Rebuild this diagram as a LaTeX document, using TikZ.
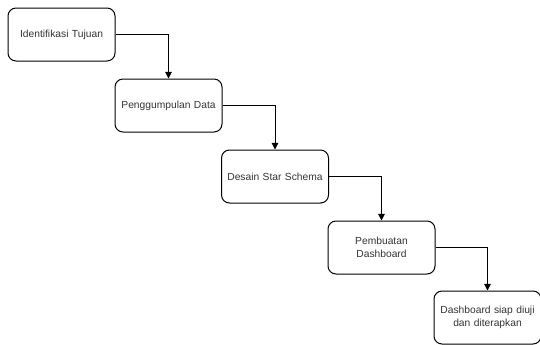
\documentclass[tikz,border=0pt]{standalone}
\usepackage{fontspec}
\setmainfont{Liberation Sans}
\usetikzlibrary{arrows.meta}
\definecolor{txtgray}{rgb}{0.200000,0.200000,0.200000}
\tikzset{
  stepnode/.style={draw=black, line width=0.75pt, rounded corners=6pt,
    minimum width=80.25pt, minimum height=39.75pt, inner sep=1pt,
    text width=76pt, align=center, text=txtgray,
    font=\fontsize{7.7}{9.5}\selectfont},
  flowline/.style={line width=0.75pt, -{Triangle[length=5pt,width=5pt]}}
}
\begin{document}
\begin{tikzpicture}[x=0.75pt,y=-0.75pt]
    \useasboundingbox (0,0) rectangle (540,344);
    
    % Marking step Identifikasi Tujuan
    \node [stepnode] (tujuan) at (61.5,34.5) {Identifikasi Tujuan};%
    
    % Marking step Penggumpulan Data
    \node [stepnode] (data) at (168.5,105.5) {Penggumpulan Data};%
    
    % Marking step Desain Star Schema
    \node [stepnode] (schema) at (275.0,176.5) {Desain Star Schema};%
    
    % Marking step Pembuatan Dashboard
    \node [stepnode] (pembuatan) at (381.5,247.5) {Pembuatan\\Dashboard};%
    
    % Marking step Dashboard siap diuji
    \node [stepnode] (siap) at (487.5,317.5) {Dashboard siap diuji\\dan diterapkan};%
    
    % Drawing connectors
    \draw [flowline] (tujuan.east) -| (data.north);%
    \draw [flowline] (data.east) -| (schema.north);%
    \draw [flowline] (schema.east) -| (pembuatan.north);%
    \draw [flowline] (pembuatan.east) -| (siap.north);%
\end{tikzpicture}
\end{document}
